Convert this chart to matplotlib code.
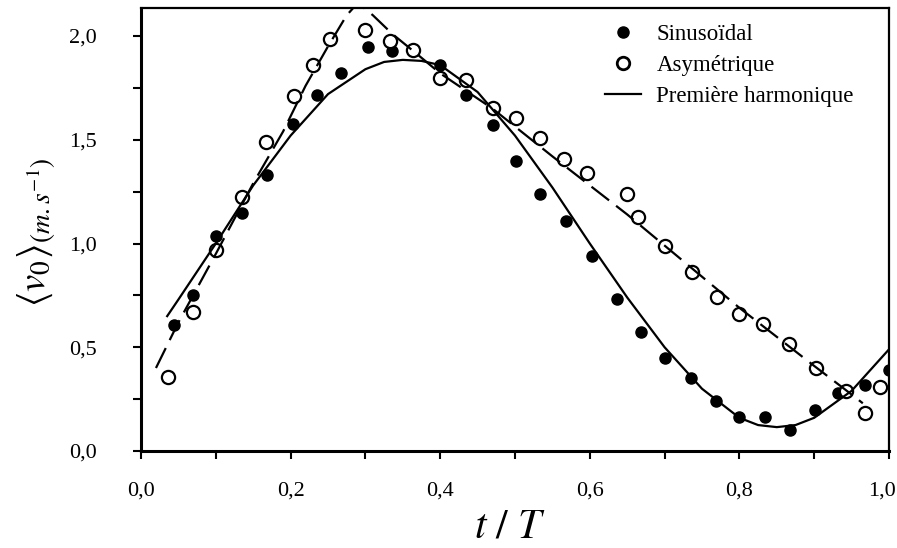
import matplotlib
matplotlib.use("Agg")
import matplotlib.pyplot as plt
import matplotlib.transforms as mtransforms
from matplotlib.lines import Line2D
from matplotlib.ticker import MultipleLocator, FuncFormatter

plt.rcParams['font.family'] = ['Liberation Serif', 'DejaVu Serif']
plt.rcParams['mathtext.fontset'] = 'stix'

# values (t/T, <v0> in m/s)
t_sin = [0.044, 0.070, 0.100, 0.135, 0.168, 0.203, 0.235, 0.268, 0.303, 0.336,
         0.400, 0.434, 0.470, 0.501, 0.534, 0.568, 0.603, 0.636, 0.668, 0.701,
         0.735, 0.769, 0.800, 0.834, 0.868, 0.901, 0.932, 0.968, 1.000]
v_sin = [0.606, 0.754, 1.034, 1.145, 1.329, 1.578, 1.717, 1.824, 1.946, 1.930,
         1.861, 1.717, 1.573, 1.397, 1.240, 1.109, 0.939, 0.734, 0.574, 0.446,
         0.353, 0.241, 0.162, 0.162, 0.102, 0.196, 0.278, 0.318, 0.390]

t_asym = [0.036, 0.069, 0.100, 0.135, 0.167, 0.204, 0.230, 0.253, 0.299, 0.333,
          0.364, 0.400, 0.434, 0.470, 0.501, 0.534, 0.565, 0.596, 0.650, 0.665,
          0.701, 0.737, 0.770, 0.800, 0.832, 0.866, 0.903, 0.943, 0.968, 0.988]
v_asym = [0.358, 0.670, 0.970, 1.226, 1.488, 1.709, 1.862, 1.986, 2.030, 1.975,
          1.934, 1.800, 1.789, 1.653, 1.605, 1.509, 1.405, 1.340, 1.240, 1.130,
          0.989, 0.862, 0.742, 0.662, 0.614, 0.518, 0.398, 0.290, 0.182, 0.310]

# first harmonic (solid line)
t_harm = [0.035, 0.05, 0.10, 0.15, 0.20, 0.25, 0.30, 0.325, 0.35, 0.375, 0.40,
          0.45, 0.50, 0.55, 0.60, 0.65, 0.70, 0.75, 0.80, 0.825, 0.85, 0.875,
          0.90, 0.95, 1.00]
v_harm = [0.65, 0.73, 1.00, 1.28, 1.52, 1.72, 1.84, 1.875, 1.885, 1.88, 1.86,
          1.73, 1.52, 1.27, 1.00, 0.74, 0.50, 0.30, 0.16, 0.125, 0.115, 0.125,
          0.16, 0.29, 0.49]

# asymmetric fit (dashed line)
t_afit = [0.020, 0.05, 0.10, 0.15, 0.19, 0.22, 0.25, 0.275, 0.29, 0.31, 0.336,
          0.37, 0.40, 0.47, 0.55, 0.60, 0.65, 0.70, 0.75, 0.80, 0.85, 0.90,
          0.94, 0.965]
v_afit = [0.40, 0.62, 0.95, 1.29, 1.54, 1.76, 1.95, 2.10, 2.16, 2.10, 2.01,
          1.91, 1.82, 1.65, 1.42, 1.28, 1.14, 0.99, 0.84, 0.69, 0.55, 0.41,
          0.30, 0.23]

x_ticks = [0.0, 0.2, 0.4, 0.6, 0.8, 1.0]
y_ticks = [0.0, 0.5, 1.0, 1.5, 2.0]

fig = plt.figure(figsize=(8.97, 5.48), dpi=100)
ax = fig.add_axes([141/897, 1 - 451/548, 748/897, 443/548])

ax.plot(t_sin, v_sin, 'o', color='black', ms=8, zorder=3)
ax.plot(t_asym, v_asym, 'o', mfc='white', mec='black', mew=1.6, ms=9.5, zorder=4)
ax.plot(t_harm, v_harm, '-', color='black', lw=1.6, zorder=5)
ax.plot(t_afit, v_afit, color='black', lw=1.6, ls=(0, (10, 4)), zorder=5)

ax.set_xlim(0, 1.0)
ax.set_ylim(0, 2.135)
fmt = lambda v: f"{v:.1f}".replace('.', ',')
ax.set_xticks(x_ticks, [fmt(v) for v in x_ticks])
ax.set_yticks(y_ticks, [fmt(v) for v in y_ticks])
ax.xaxis.set_minor_locator(MultipleLocator(0.1))
ax.yaxis.set_minor_locator(MultipleLocator(0.25))

ax.tick_params(which='both', direction='out', length=6, width=1.5, top=False, right=False)
ax.tick_params(axis='x', which='major', pad=16, labelsize=16)
ax.tick_params(axis='y', which='major', pad=26, labelsize=16)

# keep the last x label inside the figure
last = ax.get_xticklabels()[-1]
last.set_transform(last.get_transform() +
                   mtransforms.ScaledTranslation(-7/100, 0, fig.dpi_scale_trans))

for s in ['left', 'bottom']:
    ax.spines[s].set_linewidth(2.2)
for s in ['top', 'right']:
    ax.spines[s].set_linewidth(1.6)

fig.text(510/897, 1 - 538/548, r'$t\ /\ T$', fontsize=30, ha='center', va='baseline')
fig.text(37/897, 1 - 232/548, r'$\left\langle v_0 \right\rangle_{(m.s^{-1})}$',
         fontsize=28, rotation=90, ha='center', va='center')

handles = [
    Line2D([], [], ls='none', marker='o', color='black', ms=8),
    Line2D([], [], ls='none', marker='o', mfc='white', mec='black', mew=2, ms=9),
    Line2D([], [], color='black', lw=1.6),
]
labels = ['Sinusoïdal', 'Asymétrique', 'Première harmonique']
ax.legend(handles, labels, loc='upper left', bbox_to_anchor=(0.62, 0.965),
          frameon=False, borderpad=0, borderaxespad=0, handlelength=1.6,
          handletextpad=0.65, labelspacing=0.45, fontsize=16.5)

fig.savefig('out.png', dpi=100)
